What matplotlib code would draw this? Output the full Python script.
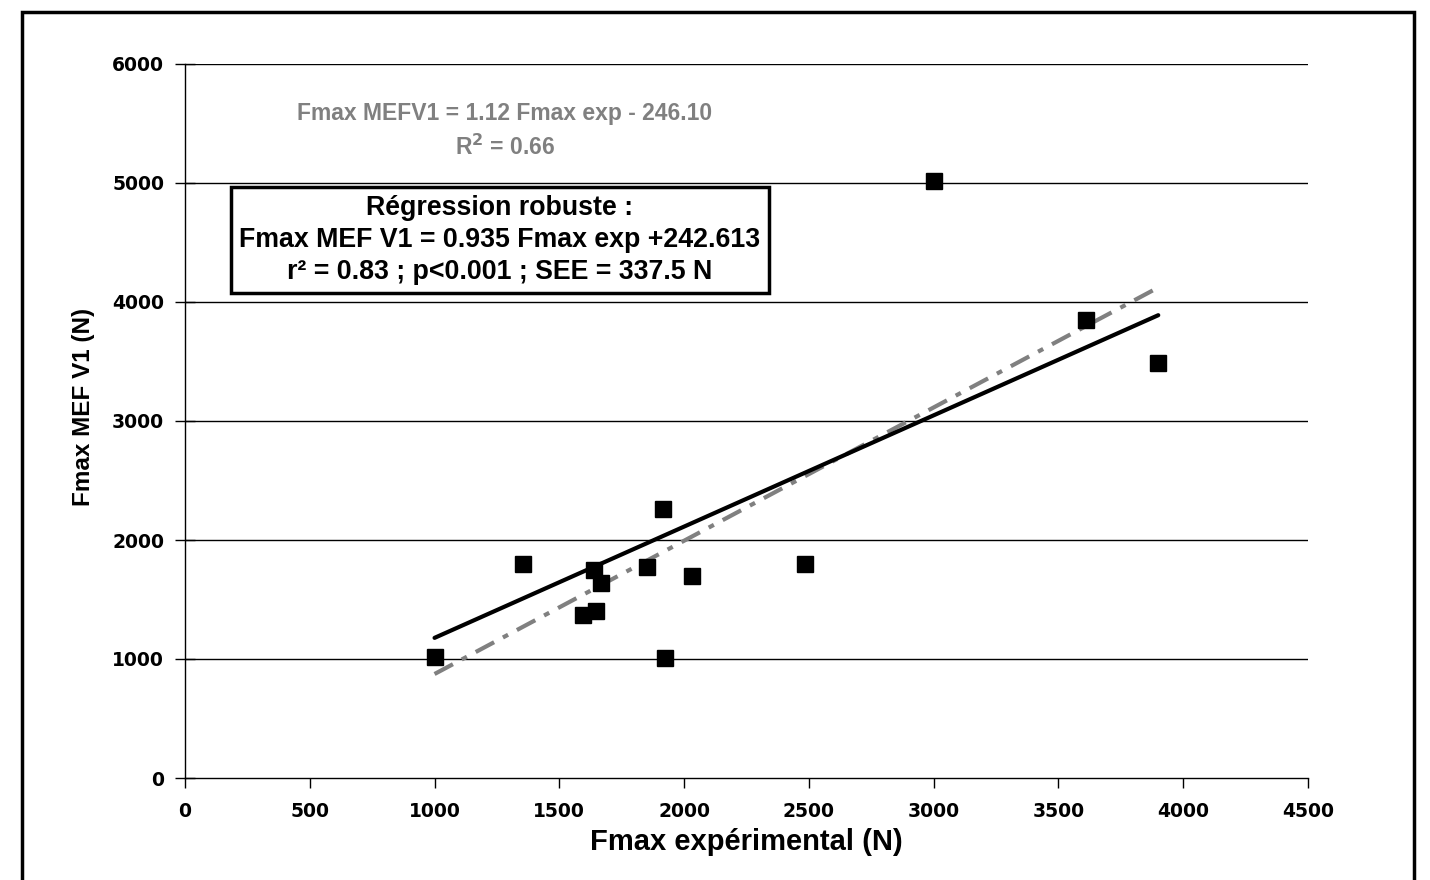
import matplotlib
matplotlib.use("Agg")
import matplotlib.pyplot as plt
from matplotlib.patches import Rectangle
import numpy as np

# data
fmax_exp = [1000, 1355, 1595, 1640, 1645, 1665, 1850, 1915, 1925, 2030, 2485, 3000, 3610, 3900]
fmax_mef = [1020, 1800, 1370, 1745, 1400, 1640, 1775, 2260, 1010, 1700, 1800, 5020, 3850, 3490]

robust_slope, robust_icpt = 0.935, 242.613
ols_slope, ols_icpt = 1.12, -246.10
fit_range = [1000, 3900]

x_ticks = [0, 500, 1000, 1500, 2000, 2500, 3000, 3500, 4000, 4500]
y_ticks = [0, 1000, 2000, 3000, 4000, 5000, 6000]

plt.rcParams['font.family'] = ['Liberation Sans', 'DejaVu Sans']

fig = plt.figure(figsize=(14.3, 8.8), dpi=100)
ax = fig.add_axes([185/1430, 1 - 778/880, (1308-185)/1430, (778-64)/880])

# frame around the whole figure (bottom edge is cut off)
fig.patches.append(Rectangle((22/1430, -0.1), (1414-22)/1430, 1.1 - 12/880,
                             transform=fig.transFigure, fill=False,
                             edgecolor='black', linewidth=2.5))

for y in y_ticks[1:]:
    ax.axhline(y, color='black', linewidth=1, zorder=1)

xs = np.array(fit_range)
ax.plot(xs, ols_slope * xs + ols_icpt, color='#808080', linewidth=3,
        dashes=(5, 2.4, 1.4, 2.4), zorder=2)
ax.plot(xs, robust_slope * xs + robust_icpt, color='black', linewidth=3,
        solid_capstyle='round', zorder=3)
ax.plot(fmax_exp, fmax_mef, linestyle='none', marker='s', markersize=11,
        color='black', zorder=4)

ax.set_xlim(0, 4500)
ax.set_ylim(0, 6000)
ax.set_xticks(x_ticks)
ax.set_yticks(y_ticks)
for lab in ax.get_xticklabels() + ax.get_yticklabels():
    lab.set_fontweight('bold')
    lab.set_fontsize(13.5)
    lab.set_family('DejaVu Sans')
ax.tick_params(axis='x', direction='out', length=7, width=1, pad=10)
ax.tick_params(axis='y', direction='inout', length=14, width=1, pad=8)

ax.spines['top'].set_visible(False)
ax.spines['right'].set_visible(False)
ax.spines['left'].set_linewidth(1)
ax.spines['bottom'].set_linewidth(1)

ax.set_xlabel('Fmax expérimental (N)', fontsize=21, fontweight='bold', labelpad=5)
ax.set_ylabel('Fmax MEF V1 (N)', fontsize=17.5, fontweight='bold')
ax.yaxis.set_label_coords(-0.08, 0.52)

ax.text(1282, 5580, 'Fmax MEFV1 = 1.12 Fmax exp - 246.10', color='#808080',
        fontsize=16.5, fontweight='bold', ha='center', va='center')
ax.text(1282, 5300, r'R$^\mathbf{2}$ = 0.66', color='#808080',
        fontsize=16.5, fontweight='bold', ha='center', va='center')

ax.text(1262, 4521, 'Régression robuste :\nFmax MEF V1 = 0.935 Fmax exp +242.613\nr² = 0.83 ; p<0.001 ; SEE = 337.5 N',
        fontsize=19.3, fontweight='bold', ha='center', va='center', linespacing=1.3,
        bbox=dict(boxstyle='square,pad=0.3', facecolor='white', edgecolor='black', linewidth=2.5),
        zorder=5)

fig.savefig('out.png', dpi=100)
